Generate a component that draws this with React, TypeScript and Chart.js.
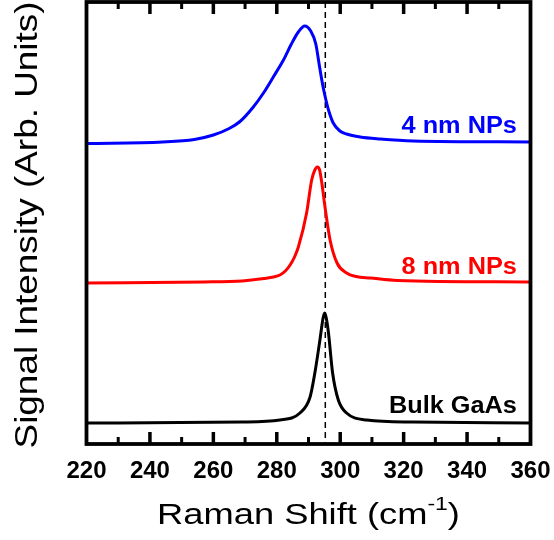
import React, { useEffect, useRef } from "react";
import { Chart, registerables } from "chart.js";

Chart.register(...registerables);

// Raman spectra, vertically offset for comparison (arbitrary units)
const shift4nm = [220, 244, 254, 260, 265, 268.4, 272.6, 275.8, 278.9, 282.1, 284.6, 286.8, 288.8, 290.7, 292.3, 293.5, 294.6, 295.5, 296.4, 297.8, 299.9, 302, 306.3, 312.6, 323, 360];
const intensity4nm = [3.005, 3.02, 3.045, 3.09, 3.155, 3.225, 3.37, 3.51, 3.67, 3.84, 4.0, 4.12, 4.18, 4.13, 4.0, 3.77, 3.57, 3.44, 3.33, 3.21, 3.13, 3.1, 3.07, 3.05, 3.03, 3.02];

const shift8nm = [220, 257, 269, 272, 276, 279, 281, 282.7, 284.2, 285.6, 286.8, 289.4, 291, 292, 292.8, 293.5, 294.2, 295.2, 296.8, 299, 302, 305, 309.5, 318, 360];
const intensity8nm = [1.61, 1.62, 1.63, 1.64, 1.655, 1.67, 1.69, 1.73, 1.79, 1.87, 1.97, 2.31, 2.64, 2.74, 2.77, 2.74, 2.61, 2.37, 2.04, 1.81, 1.71, 1.675, 1.66, 1.635, 1.62];

const shiftBulk = [220, 269, 281, 287.3, 290.5, 292, 293.6, 294.6, 295.1, 295.6, 296.3, 297.6, 299.4, 302, 308.4, 323, 360];
const intensityBulk = [0.21, 0.22, 0.24, 0.31, 0.47, 0.71, 1.04, 1.26, 1.31, 1.26, 1.11, 0.71, 0.44, 0.31, 0.24, 0.22, 0.21];

const seriesNames = ["4 nm NPs", "8 nm NPs", "Bulk GaAs"];
const seriesColors = ["#0000ff", "#ff0000", "#000000"];
// label anchor: right edge (cm^-1) and baseline (intensity)
const labelRightShift = 355.7;
const labelBaselines = [3.11, 1.7, 0.31];

// bulk GaAs LO phonon reference position
const bulkPeakShift = 295.3;

const xMin = 220;
const xMax = 360;
const xMajorStep = 20;
const xMinorStep = 10;
const yMin = 0;
const yMax = 4.42;

const FONT = '"Liberation Sans", Arial, sans-serif';

const toPoints = (xs: number[], ys: number[]) => xs.map((x, i) => ({ x, y: ys[i] }));

function stretchedText(
  ctx: CanvasRenderingContext2D,
  text: string,
  x: number,
  y: number,
  sx: number,
  align: CanvasTextAlign
) {
  ctx.save();
  ctx.translate(x, y);
  ctx.scale(sx, 1);
  ctx.textAlign = align;
  ctx.textBaseline = "alphabetic";
  ctx.fillText(text, 0, 0);
  ctx.restore();
}

const decorPlugin = {
  id: "spectraDecor",
  beforeDatasetsDraw(chart: any) {
    const { ctx, chartArea, scales } = chart;
    const px = scales.x.getPixelForValue(bulkPeakShift);
    ctx.save();
    ctx.strokeStyle = "#000";
    ctx.lineWidth = 1.5;
    ctx.setLineDash([6, 4]);
    ctx.beginPath();
    ctx.moveTo(px, chartArea.top);
    ctx.lineTo(px, chartArea.bottom);
    ctx.stroke();
    ctx.restore();
  },
  afterDatasetsDraw(chart: any) {
    const { ctx, chartArea, scales } = chart;
    const { left, right, top, bottom } = chartArea;
    ctx.save();
    ctx.strokeStyle = "#000";
    ctx.lineCap = "butt";
    // inward ticks, top and bottom
    for (let v = xMin + xMinorStep; v < xMax; v += xMinorStep) {
      const px = scales.x.getPixelForValue(v);
      const major = (v - xMin) % xMajorStep === 0;
      const len = major ? 12 : 7;
      ctx.lineWidth = major ? 3.5 : 3;
      ctx.beginPath();
      ctx.moveTo(px, bottom);
      ctx.lineTo(px, bottom - len);
      ctx.moveTo(px, top);
      ctx.lineTo(px, top + len);
      ctx.stroke();
    }
    // frame
    ctx.lineWidth = 3.8;
    ctx.lineJoin = "miter";
    ctx.strokeRect(left, top, right - left, bottom - top);

    // series labels
    ctx.font = `bold 23px ${FONT}`;
    const lx = scales.x.getPixelForValue(labelRightShift);
    seriesNames.forEach((name, i) => {
      ctx.fillStyle = seriesColors[i];
      stretchedText(ctx, name, lx, scales.y.getPixelForValue(labelBaselines[i]), 1.1, "right");
    });
    ctx.restore();
  },
  afterDraw(chart: any) {
    const { ctx, chartArea } = chart;
    ctx.save();
    ctx.fillStyle = "#000";

    // x-axis title with superscript
    const mainFont = `30px ${FONT}`;
    const supFont = `19px ${FONT}`;
    const main = "Raman Shift (cm";
    const sup = "-1";
    const close = ")";
    ctx.font = mainFont;
    const w1 = ctx.measureText(main).width;
    const w3 = ctx.measureText(close).width;
    ctx.font = supFont;
    const w2 = ctx.measureText(sup).width;
    const total = w1 + w2 + w3;
    const cx = (chartArea.left + chartArea.right) / 2;
    ctx.translate(cx, 524);
    ctx.scale(1.21, 1);
    ctx.textAlign = "left";
    ctx.textBaseline = "alphabetic";
    let x = -total / 2;
    ctx.font = mainFont;
    ctx.fillText(main, x, 0);
    x += w1;
    ctx.font = supFont;
    ctx.fillText(sup, x, -14);
    x += w2;
    ctx.font = mainFont;
    ctx.fillText(close, x, 0);
    ctx.restore();

    // y-axis title
    ctx.save();
    ctx.fillStyle = "#000";
    ctx.font = `31px ${FONT}`;
    ctx.translate(37, (chartArea.top + chartArea.bottom) / 2 + 2);
    ctx.rotate(-Math.PI / 2);
    ctx.scale(1.19, 1);
    ctx.textAlign = "center";
    ctx.textBaseline = "alphabetic";
    ctx.fillText("Signal Intensity (Arb. Units)", 0, 0);
    ctx.restore();
  },
};

export default function App() {
  const canvasRef = useRef<HTMLCanvasElement | null>(null);

  useEffect(() => {
    document.body.style.margin = "0";
    const canvas = canvasRef.current;
    if (!canvas) return;
    const line = (data: { x: number; y: number }[], color: string, label: string) => ({
      label,
      data,
      borderColor: color,
      backgroundColor: color,
      borderWidth: 3,
      pointRadius: 0,
      fill: false,
      cubicInterpolationMode: "monotone" as const,
    });
    const chart = new Chart(canvas, {
      type: "line",
      data: {
        datasets: [
          line(toPoints(shift4nm, intensity4nm), seriesColors[0], seriesNames[0]),
          line(toPoints(shift8nm, intensity8nm), seriesColors[1], seriesNames[1]),
          line(toPoints(shiftBulk, intensityBulk), seriesColors[2], seriesNames[2]),
        ],
      },
      options: {
        responsive: false,
        animation: false,
        layout: { padding: { left: 86.5, right: 23.5, top: 2, bottom: 0 } },
        plugins: {
          legend: { display: false },
          tooltip: { enabled: false },
          title: { display: false },
        },
        scales: {
          x: {
            type: "linear",
            min: xMin,
            max: xMax,
            grid: { display: false, drawTicks: false },
            border: { display: false },
            ticks: {
              stepSize: xMajorStep,
              padding: 13,
              color: "#000",
              font: { family: FONT, size: 24, weight: "bold" },
              maxRotation: 0,
              autoSkip: false,
            },
            afterFit: (scale: any) => {
              scale.height = 96;
              scale.paddingLeft = 0;
              scale.paddingRight = 0;
            },
          },
          y: {
            type: "linear",
            min: yMin,
            max: yMax,
            display: false,
          },
        },
      },
      plugins: [decorPlugin],
    });
    return () => chart.destroy();
  }, []);

  return (
    <div style={{ position: "absolute", left: 0, top: 0, width: 554, height: 540, background: "#fff" }}>
      <canvas ref={canvasRef} width={554} height={540} />
    </div>
  );
}
